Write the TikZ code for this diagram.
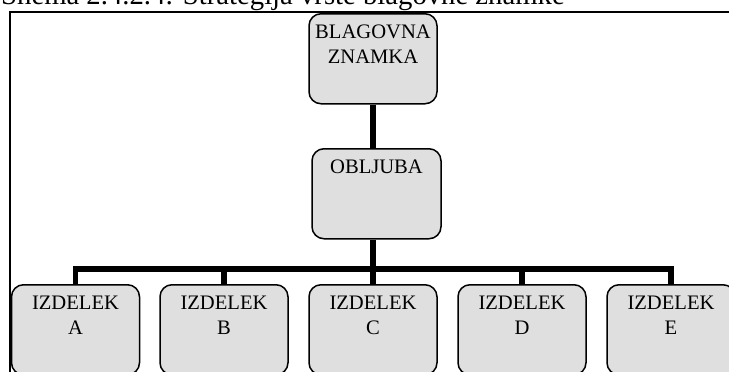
\documentclass[tikz,border=0pt]{standalone}
\usepackage{fontspec}
\setmainfont{Liberation Serif}
\usetikzlibrary{positioning, calc}

\begin{document}
\begin{tikzpicture}[x=1pt, y=-1pt,
  font=\fontsize{20.6}{24.8}\selectfont,
  card/.style={draw, line width=1.5pt, rounded corners=12pt, fill=gray!25,
               align=center, anchor=north, text width=124pt, inner xsep=2pt,
               inner ysep=4pt, text height=20.5pt, text depth=61.5pt},
  link/.style={line width=5.5pt, line join=miter}]
  \useasboundingbox (0,0) rectangle (729,372);
  \clip (0,0) rectangle (729,372);
  \node[anchor=base west, font=\fontsize{28.7}{30}\selectfont, inner sep=0pt] (title) at (1,5)
    {Shema 2.4.2.4: Strategija vrste blagovne znamke};
  \draw[line width=1.5pt] (10,400) |- (740,12);
  \node[card] (brand) at (373,13){BLAGOVNA\\ ZNAMKA};
  \node[card, text width=125pt] (promise) at (376.5,148){OBLJUBA};
  \foreach \l/\x in {A/75.5, B/224, C/373, D/522, E/671}
    \node[card] (item\l) at (\x,284){IZDELEK\\ \l};
  \coordinate (bar) at (373,269);
  \draw[link] (brand.south) -- (brand.south |- promise.north);
  \draw[link] (brand.south |- promise.south) -- (bar);
  \foreach \l in {A,B,C,D,E}
    \draw[link] (bar) -| (item\l.north);
\end{tikzpicture}
\end{document}
